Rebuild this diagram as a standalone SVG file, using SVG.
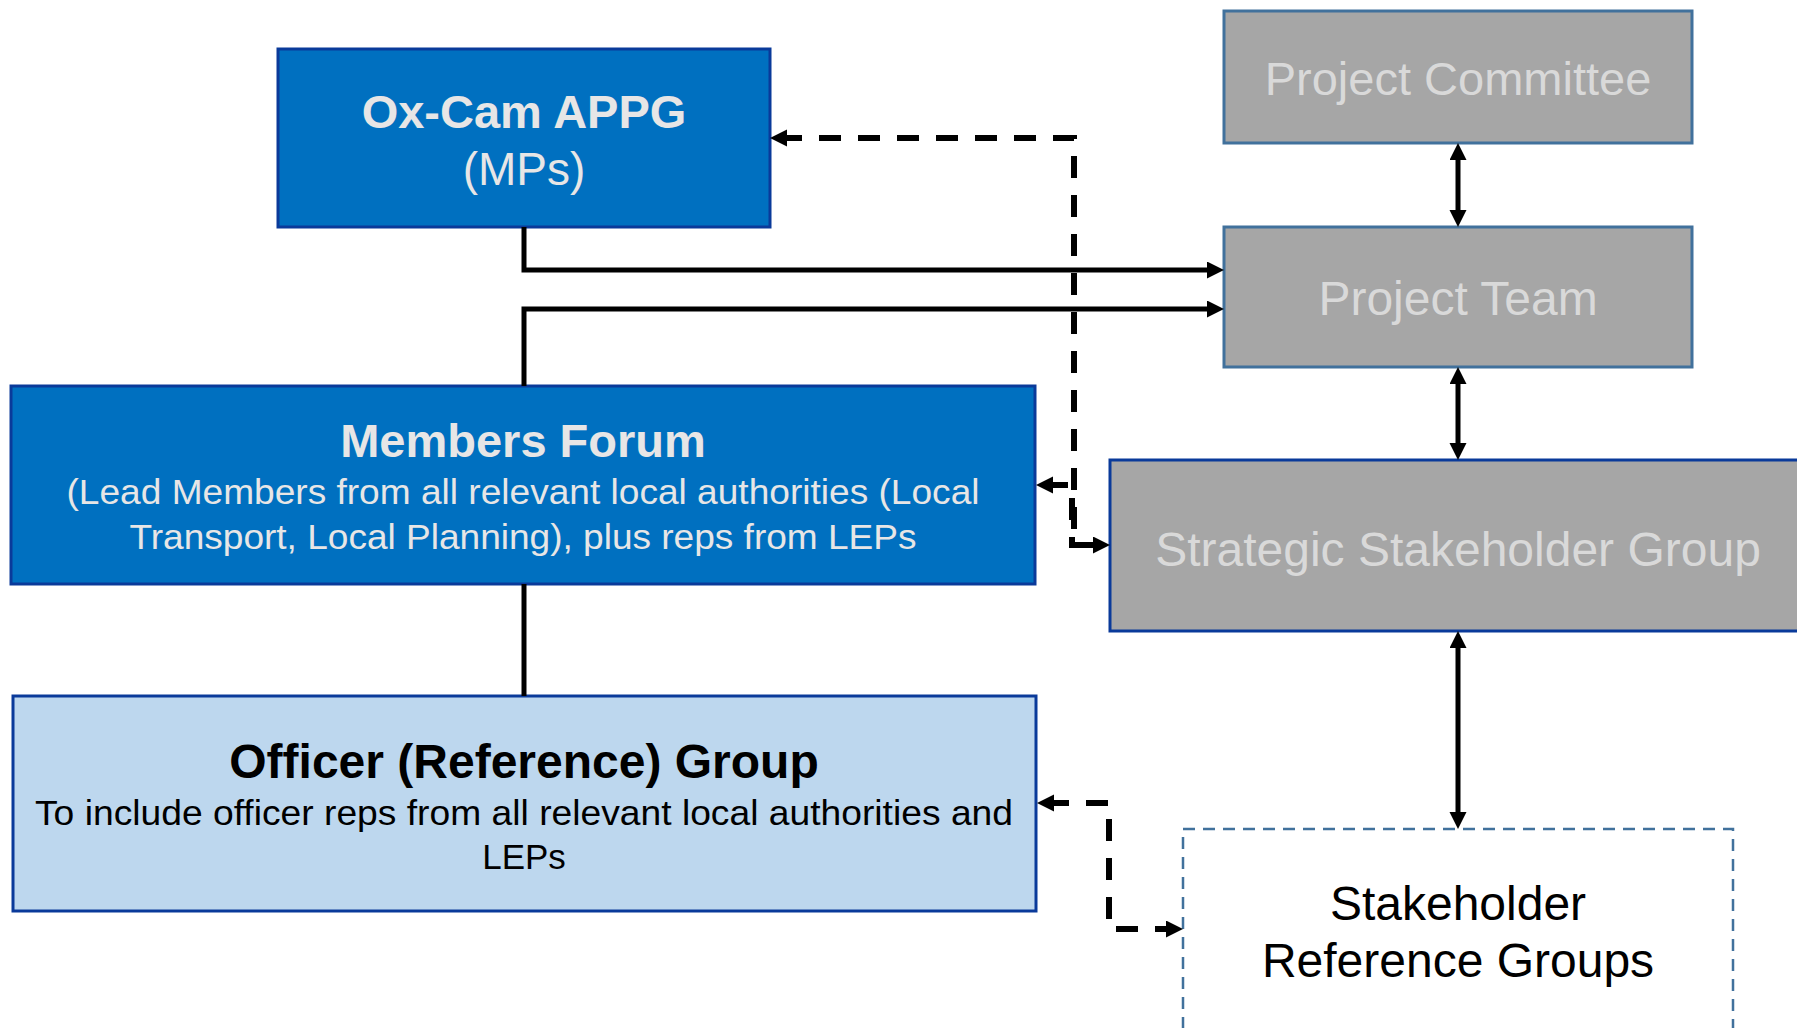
<svg xmlns="http://www.w3.org/2000/svg" width="1797" height="1028" viewBox="0 0 1797 1028">
<style>
text{font-family:"Liberation Sans",Arial,sans-serif;text-anchor:middle}
.blue{fill:#0070C0;stroke:#0A3A9A;stroke-width:3}
.grey{fill:#A6A6A6;stroke:#41719C;stroke-width:3}
.greyd{fill:#A6A6A6;stroke:#0A3A9A;stroke-width:3}
.light{fill:#BDD7EE;stroke:#0A3A9A;stroke-width:3}
.dashbox{fill:#FFFFFF;stroke:#41719C;stroke-width:2.5;stroke-dasharray:12 8}
.tw{fill:#E7E6E6}
.tg{fill:#D9D9D9}
.tb{fill:#000000}
.b{font-weight:bold}
.solid{fill:none;stroke:#000;stroke-width:5}
.dash{fill:none;stroke:#000;stroke-width:6;stroke-dasharray:22 17}
</style>
<defs>
<marker id="arr" markerUnits="userSpaceOnUse" markerWidth="18" markerHeight="18" viewBox="0 0 18 18" refX="7" refY="8.5" orient="auto-start-reverse">
<path d="M0,0 L17,8.5 L0,17 Z" fill="#000"/>
</marker>
</defs>
<g id="node-oxcam">
<rect class="blue" x="278" y="49" width="492" height="178"/>
<text class="tw b" x="524" y="128" font-size="47">Ox-Cam APPG</text>
<text class="tw" x="524" y="185" font-size="46">(MPs)</text>
</g>
<g id="node-committee">
<rect class="grey" x="1224" y="11" width="468" height="132"/>
<text class="tg" x="1458" y="95" font-size="47">Project Committee</text>
</g>
<g id="node-team">
<rect class="grey" x="1224" y="227" width="468" height="140"/>
<text class="tg" x="1458" y="315" font-size="48">Project Team</text>
</g>
<g id="node-members">
<rect class="blue" x="11" y="386" width="1024" height="198"/>
<text class="tw b" x="523" y="457" font-size="47">Members Forum</text>
<text class="tw" x="523" y="504" font-size="35" textLength="913" lengthAdjust="spacingAndGlyphs">(Lead Members from all relevant local authorities (Local</text>
<text class="tw" x="523" y="549" font-size="35" textLength="787" lengthAdjust="spacingAndGlyphs">Transport, Local Planning), plus reps from LEPs</text>
</g>
<g id="node-strategic">
<rect class="greyd" x="1110" y="460" width="700" height="171"/>
<text class="tg" x="1458" y="566" font-size="48">Strategic Stakeholder Group</text>
</g>
<g id="node-officer">
<rect class="light" x="13" y="696" width="1023" height="215"/>
<text class="tb b" x="524" y="778" font-size="48">Officer (Reference) Group</text>
<text class="tb" x="524" y="825" font-size="35" textLength="978" lengthAdjust="spacingAndGlyphs">To include officer reps from all relevant local authorities and</text>
<text class="tb" x="524" y="869" font-size="35">LEPs</text>
</g>
<g id="node-stakeholder-ref">
<rect class="dashbox" x="1183" y="829" width="550" height="230"/>
<text class="tb" x="1458" y="920" font-size="48">Stakeholder</text>
<text class="tb" x="1458" y="977" font-size="48">Reference Groups</text>
</g>
<g id="connectors">
<path class="solid" d="M524,227 V270 H1214" marker-end="url(#arr)"/>
<path class="solid" d="M524,386 V309 H1214" marker-end="url(#arr)"/>
<path class="solid" d="M1458,153 V217" marker-start="url(#arr)" marker-end="url(#arr)"/>
<path class="solid" d="M1458,377 V450" marker-start="url(#arr)" marker-end="url(#arr)"/>
<path class="solid" d="M1458,641 V819" marker-start="url(#arr)" marker-end="url(#arr)"/>
<path class="solid" d="M524,584 V696"/>
<path class="dash" d="M780,138 H1074 V545 H1100" marker-start="url(#arr)" marker-end="url(#arr)"/>
<path class="dash" d="M1046,485 H1072 V545 H1100" marker-start="url(#arr)"/>
<path class="dash" d="M1047,803 H1109 V929 H1173" marker-start="url(#arr)" marker-end="url(#arr)"/>
</g>
</svg>
